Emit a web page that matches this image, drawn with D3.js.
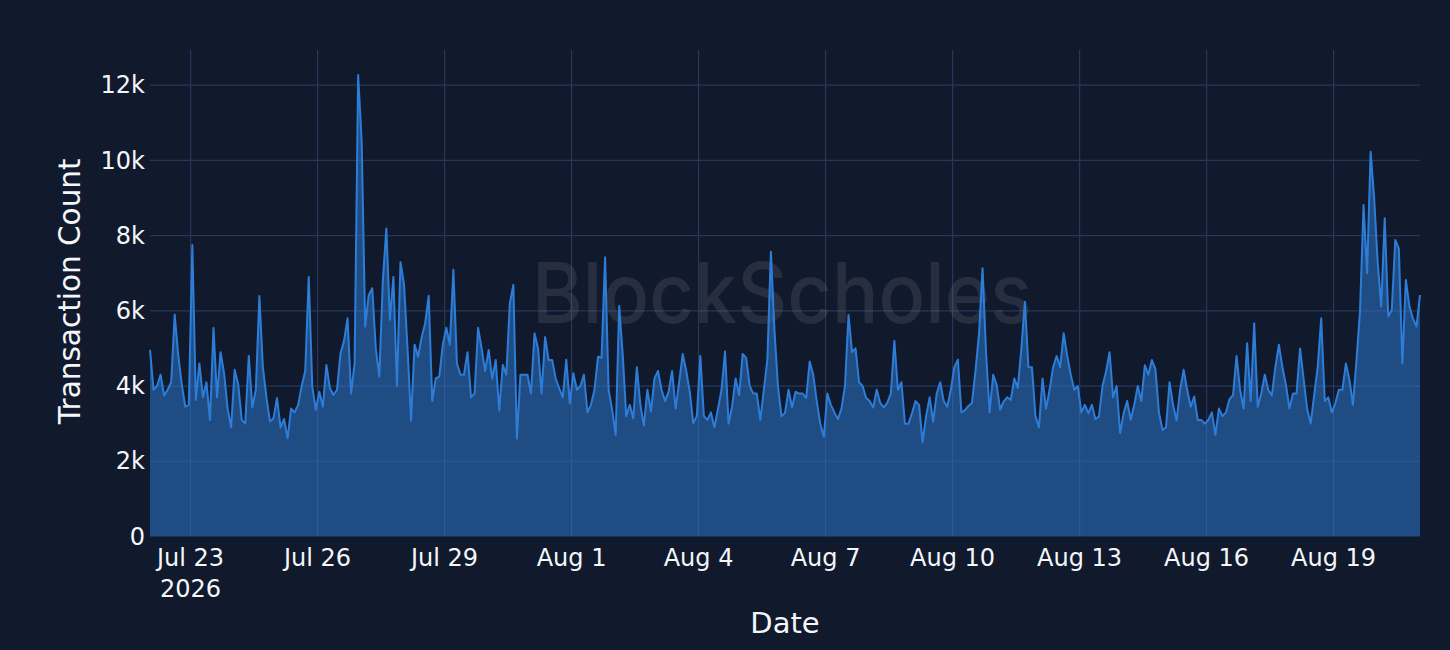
<!DOCTYPE html>
<html><head><meta charset="utf-8">
<script src="https://cdn.jsdelivr.net/npm/d3@7"></script>
<style>
html,body{margin:0;padding:0;background:#111a2d;}
svg{display:block;}
</style></head><body>
<svg id="chart" width="1450" height="650"></svg>
<script>
// ---- data (transaction counts in thousands, one value every 2 hours) ----
const seriesStart = "2026-07-22T01:00:00Z";
const stepHours = 2;
const countsK_jul22 = [4.96,3.9,4.0,4.3,3.75,3.9,4.1,5.9,4.83,4.05, 3.45,3.5,7.75,3.63,4.6,3.7,4.1,3.1,5.54,3.7,
  4.9,4.34,3.4,2.9,4.43,4.05,3.1,3.0,4.8,3.43, 3.9,6.39,4.5,3.7,3.06,3.14,3.68,2.9,3.12,2.61,
  3.4,3.3,3.5,4.0,4.4,6.9,3.98,3.37,3.85,3.45, 4.56,3.94,3.76,3.9,4.87,5.2,5.8,3.8,4.6,12.27];
const countsK_jul27 = [10.5,5.58,6.42,6.6,5.0,4.25,6.8,8.19,5.76,6.9, 4.0,7.29,6.71,5.0,3.08,5.1,4.78,5.3,5.67,6.4,
  3.6,4.2,4.25,5.1,5.55,5.1,7.09,4.6,4.3,4.3, 4.9,3.7,3.8,5.55,5.0,4.4,4.96,4.2,4.69,3.35,
  4.56,4.3,6.2,6.69,2.6,4.3,4.3,4.3,3.8,5.4, 5.0,3.8,5.3,4.69,4.69,4.2,3.94,3.7,4.7,3.54];
const countsK_aug01 = [4.34,3.9,4.0,4.3,3.3,3.5,3.9,4.78,4.75,7.42, 3.9,3.37,2.7,6.13,4.83,3.2,3.5,3.14,4.5,3.5,
  2.95,3.9,3.32,4.2,4.4,3.9,3.6,3.85,4.4,3.4, 4.1,4.85,4.4,3.85,3.01,3.2,4.8,3.2,3.1,3.3,
  2.9,3.4,3.9,4.92,3.0,3.45,4.2,3.76,4.85,4.75, 4.0,3.8,3.8,3.1,3.9,4.7,7.57,5.5,4.0,3.2];
const countsK_aug06 = [3.28,3.9,3.43,3.85,3.8,3.8,3.68,4.65,4.3,3.6, 3.0,2.65,3.8,3.5,3.3,3.12,3.4,4.0,5.89,4.9,
  5.0,4.1,4.0,3.68,3.6,3.43,3.9,3.55,3.43,3.56, 3.8,5.2,3.9,4.1,3.0,3.0,3.28,3.6,3.5,2.5,
  3.2,3.7,3.05,3.8,4.1,3.6,3.45,3.9,4.5,4.7, 3.3,3.35,3.47,3.55,4.4,5.4,7.13,4.87,3.3,4.3];
const countsK_aug11 = [4.03,3.37,3.59,3.7,3.63,4.2,3.95,5.0,6.24,4.5, 4.5,3.2,2.9,4.2,3.4,3.9,4.5,4.8,4.5,5.4,
  4.8,4.3,3.9,4.0,3.3,3.5,3.28,3.5,3.12,3.19, 4.0,4.38,4.9,3.7,4.0,2.75,3.28,3.6,3.1,3.5,
  4.0,3.6,4.55,4.3,4.69,4.45,3.3,2.83,2.9,4.1, 3.5,3.08,3.9,4.43,3.9,3.45,3.72,3.1,3.1,3.0];
const countsK_aug16 = [3.1,3.3,2.7,3.4,3.2,3.3,3.65,3.76,4.8,3.9, 3.4,5.14,3.6,5.67,3.45,3.8,4.3,3.9,3.75,4.5,
  5.1,4.5,4.03,3.4,3.8,3.8,5.0,4.2,3.4,3.0, 3.75,4.5,5.8,3.6,3.7,3.3,3.54,3.9,3.9,4.6,
  4.16,3.5,4.69,6.0,8.81,7.0,10.23,9.0,7.3,6.11, 8.46,5.85,6.02,7.88,7.66,4.6,6.82,6.11,5.8,5.58,6.42];

const yTickValues = [0, 2000, 4000, 6000, 8000, 10000, 12000];
const xTickDates = ["2026-07-23","2026-07-26","2026-07-29","2026-08-01","2026-08-04",
  "2026-08-07","2026-08-10","2026-08-13","2026-08-16","2026-08-19"];
const yAxisTitle = "Transaction Count";
const xAxisTitle = "Date";
const watermarkText = "BlockScholes";

// ---- build ----
const counts = [].concat(countsK_jul22, countsK_jul27, countsK_aug01, countsK_aug06, countsK_aug11, countsK_aug16)
  .map(v => v * 1000);
const t0 = new Date(seriesStart).getTime();
const data = counts.map((v, i) => ({ t: new Date(t0 + i * stepHours * 3600e3), v }));

const COLORS = { bg: "#111a2d", grid: "#26375a", line: "#2d7dd8", text: "#f4f6fa" };
const FONT = "'DejaVu Sans', Verdana, sans-serif";

const plot = { left: 150, right: 1420, top: 50, bottom: 536.5 };

const x = d3.scaleUtc().domain(d3.extent(data, d => d.t)).range([plot.left, plot.right]);
const y = d3.scaleLinear().domain([0, d3.max(counts) * 1.054]).range([plot.bottom, plot.top]);

const svg = d3.select("#chart");
svg.append("rect").attr("width", 1450).attr("height", 650).attr("fill", COLORS.bg);

// grid
const xTicks = xTickDates.map(s => new Date(s + "T00:00:00Z"));
const grid = svg.append("g");
grid.selectAll("line.h").data(yTickValues.filter(v => v > 0)).join("line")
  .attr("x1", plot.left).attr("x2", plot.right)
  .attr("y1", d => y(d)).attr("y2", d => y(d))
  .attr("stroke", COLORS.grid).attr("stroke-width", 1.2);
grid.selectAll("line.v").data(xTicks).join("line")
  .attr("x1", d => x(d)).attr("x2", d => x(d))
  .attr("y1", plot.top).attr("y2", plot.bottom)
  .attr("stroke", COLORS.grid).attr("stroke-width", 1.2);

// watermark
svg.append("text")
  .attr("x", 532).attr("y", 323)
  .attr("textLength", 500).attr("lengthAdjust", "spacingAndGlyphs")
  .attr("font-family", "Inter, 'Noto Sans', sans-serif")
  .attr("font-size", 84).attr("font-weight", 500)
  .attr("fill", "#8c939f").attr("fill-opacity", 0.17)
  .text(watermarkText);

// area + line
const area = d3.area().x(d => x(d.t)).y0(y(0)).y1(d => y(d.v));
const line = d3.line().x(d => x(d.t)).y(d => y(d.v));
svg.append("path").datum(data).attr("d", area)
  .attr("fill", COLORS.line).attr("fill-opacity", 0.5);
svg.append("path").datum(data).attr("d", line)
  .attr("fill", "none").attr("stroke", COLORS.line).attr("stroke-width", 2)
  .attr("stroke-linejoin", "round");

// y axis
const yAxis = d3.axisLeft(y).tickValues(yTickValues).tickSize(0).tickPadding(0)
  .tickFormat(d3.format("~s"));
const gy = svg.append("g").attr("transform", `translate(${plot.left - 5},0)`).call(yAxis);
gy.select(".domain").remove();
gy.selectAll("text").attr("fill", COLORS.text).attr("font-family", FONT).attr("font-size", 24);

// x axis
const fmt = d3.utcFormat("%b %-d");
const gx = svg.append("g");
const xl = gx.selectAll("text").data(xTicks).join("text")
  .attr("x", d => x(d)).attr("y", 566)
  .attr("text-anchor", "middle")
  .attr("fill", COLORS.text).attr("font-family", FONT).attr("font-size", 24);
xl.append("tspan").attr("x", d => x(d)).text(d => fmt(d));
xl.filter((d, i) => i === 0).append("tspan").attr("x", d => x(d)).attr("dy", 31)
  .text(d => d3.utcFormat("%Y")(d));

// titles
svg.append("text").attr("transform", `translate(80,${(plot.top + plot.bottom) / 2 - 2}) rotate(-90)`)
  .attr("text-anchor", "middle").attr("fill", COLORS.text)
  .attr("font-family", FONT).attr("font-size", 29.5).text(yAxisTitle);
svg.append("text").attr("x", (plot.left + plot.right) / 2).attr("y", 633)
  .attr("text-anchor", "middle").attr("fill", COLORS.text)
  .attr("font-family", FONT).attr("font-size", 29).text(xAxisTitle);
</script>
</body></html>
